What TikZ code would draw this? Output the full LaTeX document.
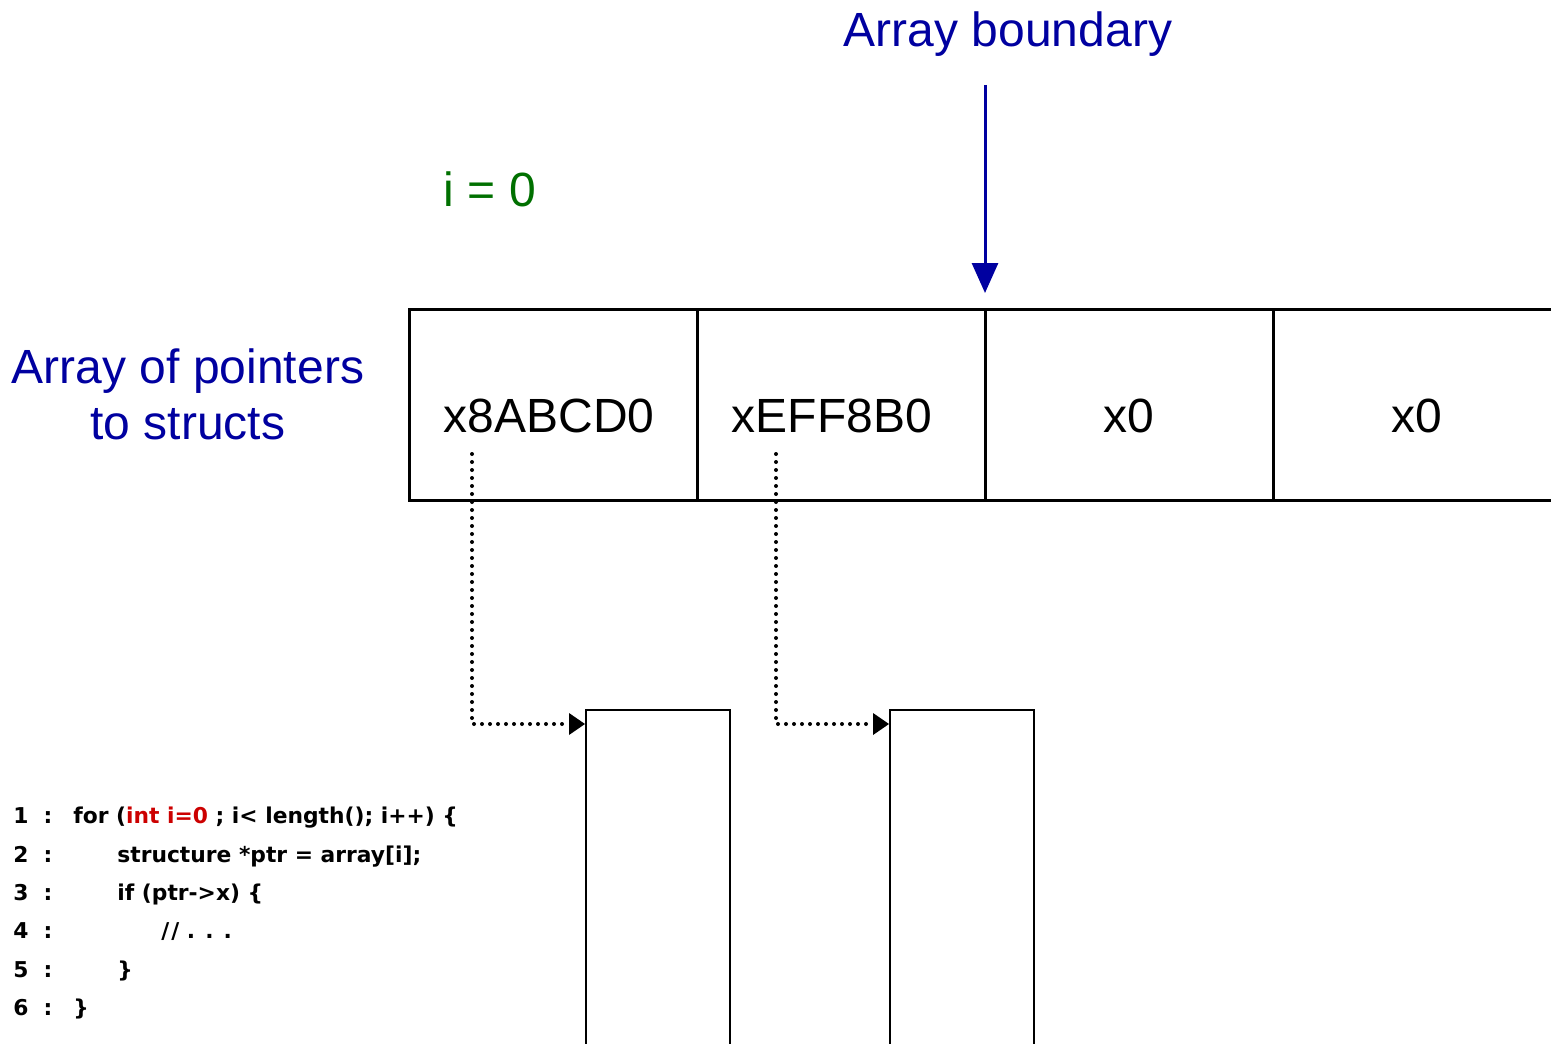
\documentclass[tikz,border=0pt]{standalone}
\usepackage{fontspec}
\setmainfont{Liberation Sans}
\newfontfamily\codefont{DejaVu Sans}
\usepackage{xcolor}
\usetikzlibrary{arrows.meta,positioning}
\definecolor{bndblue}{HTML}{0000A0}
\definecolor{idxgreen}{HTML}{007000}
\definecolor{kwred}{HTML}{CC0000}

\begin{document}
\begin{tikzpicture}[x=0.5pt,y=-0.5pt,node distance=144pt]
		\tikzstyle{cell}=[draw=black,line width=1.5pt,minimum width=144pt,minimum height=95.5pt,inner sep=0pt,text height=27.5pt,text depth=0pt,font=\fontsize{24}{28}\selectfont]
		\tikzstyle{structbox}=[draw=black,line width=1pt,minimum width=72pt,minimum height=180pt,inner sep=0pt,anchor=north west]
		\tikzstyle{ptr}=[line width=2pt,line cap=round,dash pattern=on 0pt off 4pt,-{Triangle[length=8pt,width=11pt,line width=0pt]}]
		\tikzstyle{bigtext}=[font=\fontsize{24}{28}\selectfont,align=center,inner sep=0pt]
		\tikzstyle{code}=[font=\codefont\bfseries\fontsize{10.9}{12}\selectfont,anchor=base west,inner sep=0pt]
		\useasboundingbox (0,0) rectangle (1551,1043);
		% array of pointers
		\node[cell]    (c1) at (553,404.5)   {x8ABCD0\kern4pt};
		\node[cell]    (c2)[right of=c1]     {xEFF8B0\kern9pt};
		\node[cell]    (c3)[right of=c2]     {x0};
		\node[cell]    (c4)[right of=c3]     {x0};
		\node[bigtext,text=bndblue] (arr) at (188,394) {Array of pointers\\to structs};
		% boundary
		\node[bigtext,text=bndblue,anchor=base] (bnd) at (1008,47) {Array boundary};
		\coordinate (btop) at (985,85);
		\coordinate (bbot) at (985,293);
		\draw[bndblue,line width=1.5pt,-{Triangle[length=15pt,width=13pt]}] (btop) -- (bbot);
		\node[bigtext,text=idxgreen,anchor=base] (idx) at (490,206) {i = 0};
		% structs
		\node[structbox] (s1) at (585,709) {};
		\node[structbox] (s2) at (889,709) {};
		\coordinate (p1) at (472,454);
		\coordinate (p2) at (776,454);
		\draw[ptr] (p1) |- ([yshift=-7.5pt]s1.north west);
		\draw[ptr] (p2) |- ([yshift=-7.5pt]s2.north west);
		% code
		\node[code] (n1) at (13,823)  {1\ \ :};
		\node[code] (n2) at (13,862)  {2\ \ :};
		\node[code] (n3) at (13,900)  {3\ \ :};
		\node[code] (n4) at (13,938)  {4\ \ :};
		\node[code] (n5) at (13,977)  {5\ \ :};
		\node[code] (n6) at (13,1015) {6\ \ :};
		\node[code] (l1) at (73,823)  {for (\textcolor{kwred}{int i=0} ; i< length(); i++) \{};
		\node[code] (l2) at (117,862) {structure *ptr = array[i];};
		\node[code] (l3) at (117,900) {if (ptr->x) \{};
		\node[code] (l4) at (161,938) {/\kern1pt/ . . .};
		\node[code] (l5) at (117,977) {\}};
		\node[code] (l6) at (73,1015) {\}};
	\end{tikzpicture}
\end{document}
